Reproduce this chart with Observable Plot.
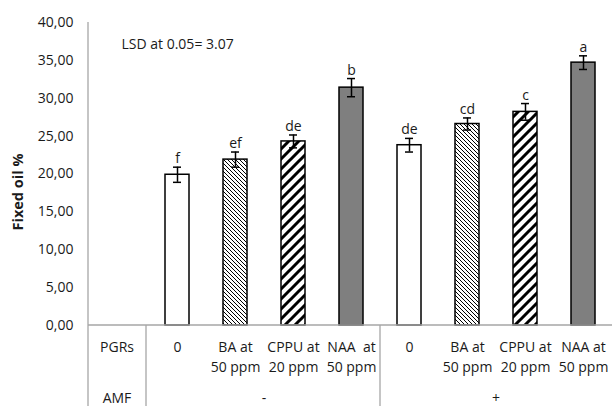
<!DOCTYPE html>
<html><head><meta charset="utf-8">
<script src="https://cdn.jsdelivr.net/npm/d3@7"></script>
<script src="https://cdn.jsdelivr.net/npm/@observablehq/plot@0.6"></script>
<style>
body{margin:0;background:#fff;}
#chart{width:612px;height:406px;overflow:hidden;}
</style>
</head><body><div id="chart"></div>
<script>
// ---- data ----
const pgrLabels = ["0", "BA at\n50 ppm", "CPPU at\n20 ppm", "NAA  at\n50 ppm",
                   "0", "BA at\n50 ppm", "CPPU at\n20 ppm", "NAA at\n50 ppm"];
const pgrTypes = ["0", "BA", "CPPU", "NAA", "0", "BA", "CPPU", "NAA"];
const amfGroups = ["-", "-", "-", "-", "+", "+", "+", "+"];
const fixedOil = [19.9, 21.9, 24.3, 31.4, 23.8, 26.6, 28.2, 34.7];
const errors = [1.0, 1.0, 0.85, 1.2, 0.9, 0.8, 1.1, 0.9];
const letters = ["f", "ef", "de", "b", "de", "cd", "c", "a"];
const yTicks = [0, 5, 10, 15, 20, 25, 30, 35, 40];
const groupNames = ["-", "+"];
const lsdText = "LSD at 0.05= 3.07";
const yLabel = "Fixed oil %";

const rows = fixedOil.map((v, i) => ({
  key: amfGroups[i] + "|" + i,
  pgr: pgrLabels[i], type: pgrTypes[i], amf: amfGroups[i],
  value: v, err: errors[i], letter: letters[i]
}));
const keys = rows.map(d => d.key);

const fillFor = {"0": "white", "BA": "url(#hatchThin)", "CPPU": "url(#hatchThick)", "NAA": "#7f7f7f"};
const textColor = "#1a1a1a";
const font = "'Open Sans', sans-serif";

const plot = Plot.plot({
  width: 612, height: 406,
  marginTop: 22, marginBottom: 81, marginLeft: 146, marginRight: 0,
  style: {fontFamily: font, fontSize: "14px", background: "white", color: textColor},
  x: {domain: keys, range: [146, 614], paddingInner: 0.59, paddingOuter: 0.295, axis: null},
  y: {domain: [0, 40], axis: null},
  color: {type: "identity"},
  marks: [
    Plot.axisY({ticks: yTicks, tickSize: 0, tickPadding: 73, label: null,
      tickFormat: d => d.toFixed(2).replace(".", ","), fontSize: 14, fill: textColor}),
    Plot.barY(rows, {x: "key", y: "value", fill: d => fillFor[d.type], stroke: "black", strokeWidth: 1.5}),
    Plot.ruleX(rows, {x: "key", y1: d => d.value - d.err, y2: d => d.value + d.err, stroke: "black", strokeWidth: 1.5}),
    Plot.tickY(rows, {x: "key", y: d => d.value + d.err, insetLeft: 8, insetRight: 8, stroke: "black", strokeWidth: 1.5}),
    Plot.tickY(rows, {x: "key", y: d => d.value - d.err, insetLeft: 8, insetRight: 8, stroke: "black", strokeWidth: 1.5}),
    Plot.text(rows, {x: "key", y: d => d.value + d.err, text: "letter", dy: -4, lineAnchor: "bottom", fontSize: 14, fill: textColor}),
    Plot.text(rows, {x: "key", frameAnchor: "bottom", text: "pgr", dy: 12, lineAnchor: "top", lineHeight: 1.43, fontSize: 14, fill: textColor}),
    Plot.text([lsdText], {frameAnchor: "top-left", text: d => d, dx: -25, dy: 22, lineAnchor: "middle", textAnchor: "start", fontSize: 14, fill: textColor})
  ]
});

const svg = d3.select(plot);
const defs = svg.insert("defs", ":first-child");
const p1 = defs.append("pattern").attr("id", "hatchThin").attr("patternUnits", "userSpaceOnUse").attr("width", 4).attr("height", 4);
p1.append("rect").attr("width", 4).attr("height", 4).attr("fill", "white");
p1.append("path").attr("d", "M-1,3 L1,5 M0,0 L4,4 M3,-1 L5,1").attr("stroke", "black").attr("stroke-width", 1);
const p2 = defs.append("pattern").attr("id", "hatchThick").attr("patternUnits", "userSpaceOnUse").attr("width", 10).attr("height", 10);
p2.append("rect").attr("width", 10).attr("height", 10).attr("fill", "white");
p2.append("path").attr("d", "M0,10 L10,0 M-3,3 L3,-3 M7,13 L13,7").attr("stroke", "black").attr("stroke-width", 3);

// table / axis decoration derived from scales
const xs = plot.scale("x"), ys = plot.scale("y");
const bw = xs.bandwidth;
const xLeft = xs.range[0];
const y0 = ys.apply(0), yTop = ys.apply(40);
const axisX = 88;
const g = svg.append("g").attr("stroke", "#a6a6a6").attr("stroke-width", 1.3);
g.append("line").attr("x1", axisX).attr("x2", axisX).attr("y1", yTop).attr("y2", 406);
g.append("line").attr("x1", axisX).attr("x2", 612).attr("y1", y0).attr("y2", y0);
g.append("line").attr("x1", xLeft).attr("x2", xLeft).attr("y1", y0).attr("y2", 406);
const sep = (xs.apply(keys[3]) + bw + xs.apply(keys[4])) / 2;
g.append("line").attr("x1", sep).attr("x2", sep).attr("y1", y0).attr("y2", 406);

const t = svg.append("g").attr("font-family", font).attr("font-size", 14).attr("fill", textColor).attr("text-anchor", "middle");
const labCol = (axisX + xLeft) / 2;
t.append("text").attr("x", labCol).attr("y", y0 + 22).attr("dy", "0.35em").text("PGRs");
t.append("text").attr("x", labCol).attr("y", y0 + 73).attr("dy", "0.35em").text("AMF");
groupNames.forEach(gn => {
  const ks = rows.filter(d => d.amf === gn).map(d => xs.apply(d.key) + bw / 2);
  t.append("text").attr("x", (ks[1] + ks[2]) / 2).attr("y", y0 + 73).attr("dy", "0.35em").text(gn);
});
t.append("text").attr("transform", `translate(18,${(yTop + 406) / 2 - 22}) rotate(-90)`)
  .attr("dy", "0.35em").attr("font-weight", "bold").attr("font-size", 14.5).text(yLabel);

document.getElementById("chart").appendChild(plot);
</script>
</body></html>
